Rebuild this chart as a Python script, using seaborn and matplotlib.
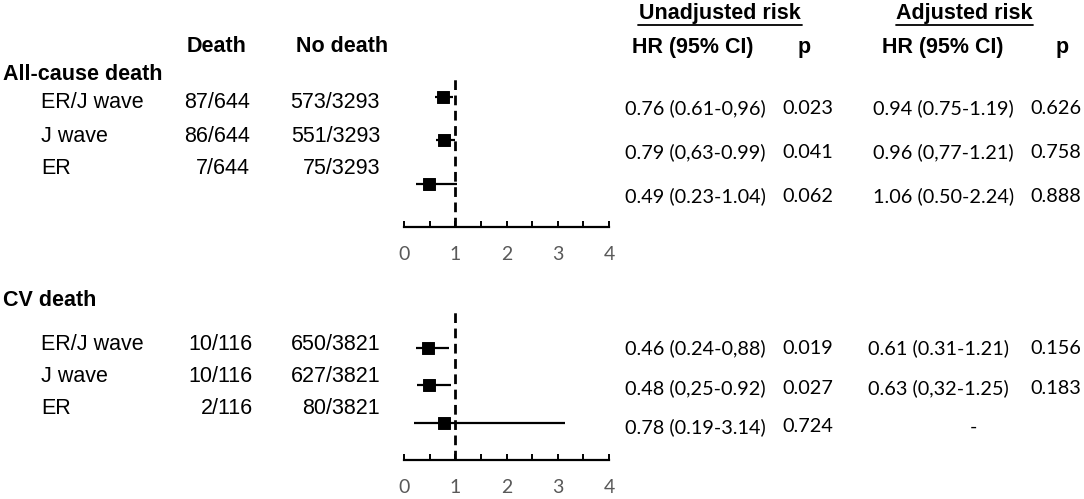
import matplotlib
matplotlib.use("Agg")
import matplotlib.pyplot as plt
from matplotlib.lines import Line2D
import seaborn as sns

# data
subgroups = ["ER/J wave", "J wave", "ER"]

death_all = ["87/644", "86/644", "7/644"]
nodeath_all = ["573/3293", "551/3293", "75/3293"]
hr_all = [0.76, 0.79, 0.49]
lo_all = [0.61, 0.63, 0.23]
hi_all = [0.96, 0.99, 1.04]
unadj_all = ["0.76 (0.61-0,96)", "0.79 (0,63-0.99)", "0.49 (0.23-1.04)"]
unadj_p_all = ["0.023", "0.041", "0.062"]
adj_all = ["0.94 (0.75-1.19)", "0.96 (0,77-1.21)", "1.06 (0.50-2.24)"]
adj_p_all = ["0.626", "0.758", "0.888"]

death_cv = ["10/116", "10/116", "2/116"]
nodeath_cv = ["650/3821", "627/3821", "80/3821"]
hr_cv = [0.46, 0.48, 0.78]
lo_cv = [0.24, 0.25, 0.19]
hi_cv = [0.88, 0.92, 3.14]
unadj_cv = ["0.46 (0.24-0,88)", "0.48 (0,25-0.92)", "0.78 (0.19-3.14)"]
unadj_p_cv = ["0.019", "0.027", "0.724"]
adj_cv = ["0.61 (0.31-1.21)", "0.63 (0,32-1.25)", "-"]
adj_p_cv = ["0.156", "0.183", ""]

tick_labels = ["0", "1", "2", "3", "4"]

sns.set_theme(style="white")
plt.rcParams["font.family"] = ["Liberation Sans", "DejaVu Sans"]

W, H = 1084, 499
fig = plt.figure(figsize=(W / 100, H / 100), dpi=100)

ARIAL = ["Liberation Sans", "DejaVu Sans"]
CALI = ["Lato", "DejaVu Sans"]
NUM = 14.3


def txt(x, y, s, ha="left", bold=False, fam=ARIAL, size=15.5, **kw):
    return fig.text(x / W, 1 - y / H, s, ha=ha, va="center", family=fam,
                    fontsize=size, fontweight="bold" if bold else "normal",
                    color="black", **kw)


# left part
txt(217, 46, "Death", ha="center", bold=True)
txt(342, 46, "No death", ha="center", bold=True)
txt(3, 74, "All-cause death", bold=True)
txt(3, 301, "CV death", bold=True)

left_rows_all = [103, 136, 168]
left_rows_cv = [344, 377, 409]
for i, name in enumerate(subgroups):
    txt(41, left_rows_all[i], name)
    txt(250, left_rows_all[i], death_all[i], ha="right")
    txt(380, left_rows_all[i], nodeath_all[i], ha="right")
    txt(41, left_rows_cv[i], name)
    txt(253, left_rows_cv[i], death_cv[i], ha="right")
    txt(380, left_rows_cv[i], nodeath_cv[i], ha="right")

# right table headers
txt(720, 13, "Unadjusted risk", ha="center", bold=True)
txt(964, 13, "Adjusted risk", ha="center", bold=True)
fig.add_artist(Line2D([638 / W, 802 / W], [1 - 25 / H, 1 - 25 / H], color="black", lw=1.3))
fig.add_artist(Line2D([896 / W, 1033 / W], [1 - 25 / H, 1 - 25 / H], color="black", lw=1.3))
txt(693, 48, "HR (95% CI)", ha="center", bold=True)
txt(804, 48, "p", ha="center", bold=True)
txt(943, 48, "HR (95% CI)", ha="center", bold=True)
txt(1062, 48, "p", ha="center", bold=True)

right_rows_all = [108, 152, 196]
right_rows_cv = [348, 388, 427]
for i in range(3):
    txt(625, right_rows_all[i], unadj_all[i], fam=CALI, size=NUM)
    txt(782, right_rows_all[i], unadj_p_all[i], fam=CALI, size=NUM)
    txt(873, right_rows_all[i], adj_all[i], fam=CALI, size=NUM)
    txt(1030, right_rows_all[i], adj_p_all[i], fam=CALI, size=NUM)
    txt(625, right_rows_cv[i], unadj_cv[i], fam=CALI, size=NUM)
    txt(782, right_rows_cv[i], unadj_p_cv[i], fam=CALI, size=NUM)
    if adj_cv[i] == "-":
        txt(973, right_rows_cv[i], adj_cv[i], ha="center", fam=CALI, size=NUM)
    else:
        txt(868, right_rows_cv[i], adj_cv[i], fam=CALI, size=NUM)
        txt(1030, right_rows_cv[i], adj_p_cv[i], fam=CALI, size=NUM)


def forest(ax, hr, lo, hi, ylim):
    rows = list(range(len(hr)))
    ax.hlines(rows, lo, hi, color="black", lw=1.6)
    sns.scatterplot(x=hr, y=rows, marker="s", s=70, color="black",
                    edgecolor="black", ax=ax, zorder=3)
    ax.axvline(1, color="black", lw=2, linestyle=(0, (3.5, 2)))
    ax.set_xlim(0, 4)
    ax.set_ylim(*ylim)
    for side in ["left", "right", "top"]:
        ax.spines[side].set_visible(False)
    ax.spines["bottom"].set_color("black")
    ax.spines["bottom"].set_linewidth(1.6)
    ax.set_xticks([0, 1, 2, 3, 4])
    ax.set_xticklabels(tick_labels, family=CALI, fontsize=14, color="#595959")
    ax.set_xticks([0.5, 1.5, 2.5, 3.5], minor=True)
    ax.tick_params(axis="x", which="both", direction="in", length=4.5,
                   width=1.4, color="black", bottom=True, pad=14)
    ax.set_yticks([])
    ax.set_xlabel("")
    ax.set_ylabel("")
    ax.patch.set_alpha(0)


ax1 = fig.add_axes([404 / W, 1 - 227 / H, 205 / W, 152 / H])
forest(ax1, hr_all, lo_all, hi_all, (3.0, -0.5))
ax2 = fig.add_axes([404 / W, 1 - 460 / H, 205 / W, 150 / H])
forest(ax2, hr_cv, lo_cv, hi_cv, (3.0, -1.0))

fig.savefig("out.png", dpi=100, facecolor="white")
